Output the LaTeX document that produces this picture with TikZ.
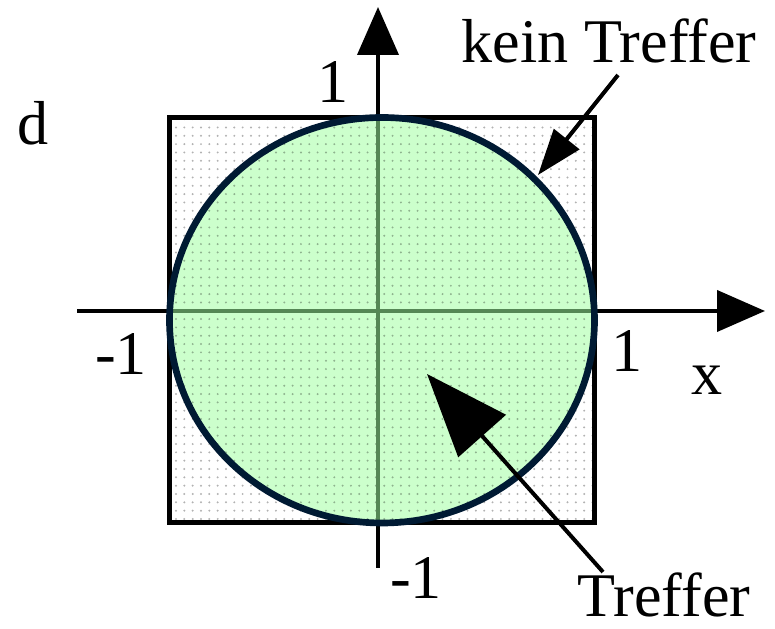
\documentclass[tikz,border=0pt]{standalone}
\usepackage{fontspec}
\setmainfont{Liberation Serif}
\usepackage{tikz}
\usetikzlibrary{arrows.meta}
\definecolor{cHit}{HTML}{CCFFCC}
\definecolor{cRing}{HTML}{001A33}
\definecolor{cAxIn}{HTML}{558755}
\tikzset{
  lbl/.style={font=\fontsize{53}{60}\selectfont, inner sep=0pt, anchor=base},
  axis/.style={line width=0.12cm, -{Triangle[length=1.44cm,width=1.23cm]}},
  ptr/.style={line width=0.12cm},
  dot/.style={fill=black, fill opacity=0.3}
}
\begin{document}
\begin{tikzpicture}[x=0.03cm, y=0.03cm]
\useasboundingbox (0,0) rectangle (775,629);
% ----- square and circle fills -----
\path[fill=white] (169.5,106) rectangle (594.5,511.5);
\path[fill=cHit] (382,308.75) ellipse [x radius=212.5, y radius=202.75];
% ----- dot raster -----
\begin{scope}
  \clip (169.5,106) rectangle (594.5,511.5);
  \foreach \i in {0,...,51} {
    \foreach \j in {0,...,49} {
      \fill[dot] (176+8.33*\i,110+8.33*\j) circle (1.1);
    }
  }
\end{scope}
% ----- axes -----
\coordinate (xl) at (77,318);
\coordinate (xr) at (765,318);
\coordinate (yb) at (378,61);
\coordinate (yt) at (378,622);
\draw[axis] (xl) -- (xr);
\draw[axis] (yb) -- (yt);
\begin{scope}
  \clip (382,308.75) ellipse [x radius=212.5, y radius=202.75];
  \draw[line width=0.12cm, cAxIn] (xl) -- (xr);
  \draw[line width=0.12cm, cAxIn] (yb) -- (yt);
\end{scope}
% ----- outlines -----
\draw[line width=0.15cm] (169.5,106) rectangle (594.5,511.5);
\draw[line width=0.2cm, cRing] (382,308.75) ellipse [x radius=212.5, y radius=202.75];
% ----- labels -----
\node[lbl] (d) at (33,484) {d};
\node[lbl] (yp) at (333,526) {1};
\node[lbl] (xm) at (121,254) {-1};
\node[lbl] (xp) at (627,257) {1};
\node[lbl] (x) at (707,234) {x};
\node[lbl] (ym) at (416,30) {-1};
\node[lbl] (kt) at (609,566) {kein Treffer};
\node[lbl] (t) at (664,12) {Treffer};
% ----- pointers -----
\coordinate (ktS) at (618,554);
\coordinate (ktE) at (538,454);
\coordinate (tS) at (603,57);
\coordinate (tE) at (427,255);
\draw[ptr, -{Triangle[length=1.38cm,width=0.96cm]}] (ktS) -- (ktE);
\draw[ptr, -{Triangle[length=2.49cm,width=1.89cm]}] (tS) -- (tE);
\end{tikzpicture}
\end{document}
